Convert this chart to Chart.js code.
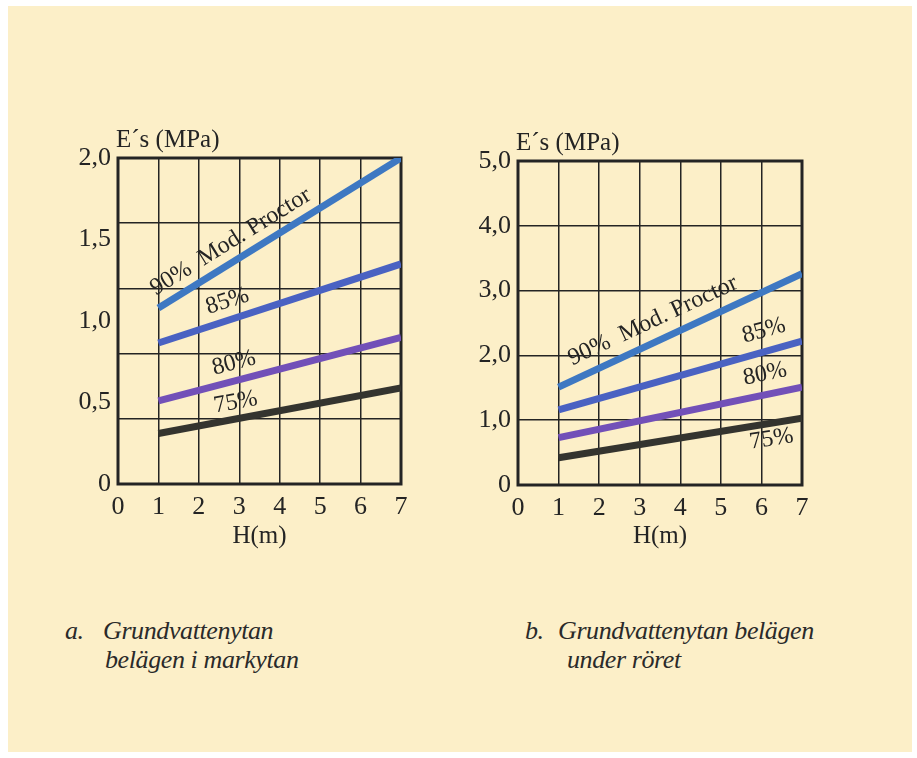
<!DOCTYPE html>
<html>
<head>
<meta charset="utf-8">
<script src="https://cdn.jsdelivr.net/npm/chart.js@4.4.1/dist/chart.umd.min.js"></script>
<style>
  body { margin: 0; background: #ffffff; width: 917px; height: 758px; position: relative; overflow: hidden; }
  #panel { position: absolute; left: 8px; top: 6px; width: 904px; height: 746px; background: #fcefc8; }
  .box { position: absolute; }
  .cap { position: absolute; font-family: "Liberation Serif", serif; font-style: italic; font-size: 26px; line-height: 28px; letter-spacing: -0.4px; color: #2a2a2a; }
  .cap span { position: absolute; white-space: nowrap; }
</style>
</head>
<body>
<div id="panel"></div>
<div class="box" style="left:40px; top:110px; width:400px; height:460px;"><canvas id="chartA"></canvas></div>
<div class="box" style="left:440px; top:110px; width:420px; height:460px;"><canvas id="chartB"></canvas></div>
<div class="cap" style="left:65px; top:617px;">
  <span style="left:0; top:0;">a.</span>
  <span style="left:38px; top:0;">Grundvattenytan</span>
  <span style="left:40px; top:29px;">belägen i markytan</span>
</div>
<div class="cap" style="left:525px; top:617px;">
  <span style="left:0; top:0;">b.</span>
  <span style="left:33px; top:0;">Grundvattenytan belägen</span>
  <span style="left:42px; top:29px;">under röret</span>
</div>
<script>
// data (lines are straight, given at H = 1 and H = 7)
const hValues = [1, 7];
const seriesNames = ["90% Mod. Proctor", "85%", "80%", "75%"];

// a. Grundvattenytan belägen i markytan
const esA90 = [1.08, 2.0];
const esA85 = [0.865, 1.35];
const esA80 = [0.51, 0.90];
const esA75 = [0.31, 0.59];

// b. Grundvattenytan belägen under röret
const esB90 = [1.51, 3.26];
const esB85 = [1.16, 2.22];
const esB80 = [0.73, 1.51];
const esB75 = [0.42, 1.03];

const xTicks = [0, 1, 2, 3, 4, 5, 6, 7];
const yTicksA = [0, 0.5, 1.0, 1.5, 2.0];
const yTicksB = [0, 1.0, 2.0, 3.0, 4.0, 5.0];

const lineColors = ["#3e78c2", "#4a62c2", "#7250b8", "#34342f"];
const ink = "#242424";
const serif = "'Liberation Serif', 'Times New Roman', serif";

function fmt(v) {
  return v === 0 ? "0" : v.toFixed(1).replace(".", ",");
}

// frame around the plot
const framePlugin = {
  id: "frame",
  beforeDatasetsDraw(chart) {
    const a = chart.chartArea, ctx = chart.ctx;
    ctx.save();
    ctx.strokeStyle = ink;
    ctx.lineWidth = 3;
    ctx.strokeRect(a.left, a.top, a.right - a.left, a.bottom - a.top);
    ctx.restore();
  }
};

// y title above the axis + labels written along the lines
const textPlugin = {
  id: "texts",
  afterDatasetsDraw(chart, args, opts) {
    const ctx = chart.ctx, a = chart.chartArea;
    ctx.save();
    ctx.fillStyle = ink;
    ctx.font = "25px " + serif;
    ctx.textBaseline = "alphabetic";
    ctx.textAlign = "left";
    ctx.fillText("E\u00B4s (MPa)", a.left - 2, a.top - 11);

    ctx.font = "24px " + serif;
    opts.labels.forEach(l => {
      const pts = chart.getDatasetMeta(l.ds).data;
      const p0 = pts[0], p1 = pts[pts.length - 1];
      const ang = Math.atan2(p1.y - p0.y, p1.x - p0.x);
      const px = chart.scales.x.getPixelForValue(l.x);
      const py = p0.y + (px - p0.x) / (p1.x - p0.x) * (p1.y - p0.y);
      ctx.save();
      ctx.translate(px, py);
      ctx.rotate(ang);
      ctx.textAlign = l.align;
      ctx.fillText(l.text, 0, l.dy);
      ctx.restore();
    });
    ctx.restore();
  }
};

function makeChart(id, series, yMax, gridStep, yAxisWidth, xAxisHeight, pad, labels) {
  const datasets = series.map((s, i) => ({
    label: seriesNames[i],
    data: hValues.map((h, j) => ({ x: h, y: s[j] })),
    borderColor: lineColors[i],
    borderWidth: 7,
    pointRadius: 0,
    borderCapStyle: "butt",
    tension: 0
  }));

  return new Chart(document.getElementById(id), {
    type: "line",
    data: { datasets },
    options: {
      responsive: true,
      maintainAspectRatio: false,
      animation: false,
      layout: { padding: pad },
      plugins: {
        legend: { display: false },
        tooltip: { enabled: false },
        texts: { labels }
      },
      scales: {
        x: {
          type: "linear",
          min: 0,
          max: 7,
          afterBuildTicks: sc => { sc.ticks = xTicks.map(v => ({ value: v })); },
          afterFit: sc => { sc.height = xAxisHeight; },
          grid: { color: ink, lineWidth: 1.5, drawTicks: false },
          border: { display: false },
          ticks: { color: ink, padding: 8, font: { family: serif, size: 26 }, callback: v => String(v) },
          title: { display: true, text: "H(m)", color: ink, font: { family: serif, size: 25 }, padding: { top: 0, bottom: 19 } }
        },
        y: {
          type: "linear",
          min: 0,
          max: yMax,
          afterBuildTicks: sc => { sc.ticks = (yMax === 2 ? yTicksA : yTicksB).map(v => ({ value: v })); },
          afterFit: sc => { sc.width = yAxisWidth; },
          grid: { display: false, drawTicks: false },
          border: { display: false },
          ticks: { color: ink, padding: 7, font: { family: serif, size: 26 }, callback: v => fmt(v) }
        },
        yGrid: {
          type: "linear",
          position: "left",
          min: 0,
          max: yMax,
          ticks: { display: false, stepSize: gridStep },
          afterFit: sc => { sc.width = 0; },
          grid: { color: ink, lineWidth: 1.5, drawTicks: false },
          border: { display: false }
        }
      }
    },
    plugins: [framePlugin, textPlugin]
  });
}

makeChart("chartA", [esA90, esA85, esA80, esA75], 2, 0.4, 78, 86,
  { top: 48, right: 39, left: 0, bottom: 0 },
  [
    { ds: 0, x: 1.09, dy: -12, align: "left", text: "90%  Mod. Proctor" },
    { ds: 1, x: 2.33, dy: -12, align: "left", text: "85%" },
    { ds: 2, x: 2.45, dy: -11, align: "left", text: "80%" },
    { ds: 3, x: 2.45, dy: -10, align: "left", text: "75%" }
  ]);

makeChart("chartB", [esB90, esB85, esB80, esB75], 5, 1, 78, 85,
  { top: 51, right: 58, left: 0, bottom: 0 },
  [
    { ds: 0, x: 1.48, dy: -14, align: "left", text: "90%  Mod. Proctor" },
    { ds: 1, x: 6.72, dy: -14, align: "right", text: "85%" },
    { ds: 2, x: 6.72, dy: -14, align: "right", text: "80%" },
    { ds: 3, x: 6.72, dy: 22, align: "right", text: "75%" }
  ]);
</script>
</body>
</html>
